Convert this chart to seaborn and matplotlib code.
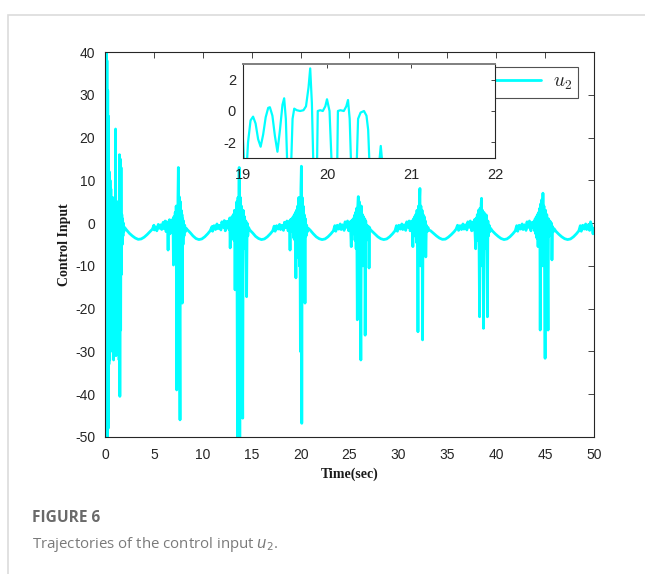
import matplotlib
matplotlib.use("Agg")
import matplotlib.pyplot as plt
from matplotlib.patches import Rectangle
from matplotlib.font_manager import FontProperties
import pandas as pd
import seaborn as sns

# ---- data ----
# bursts of the control input around each switching instant
t_b1 = [0.00, 0.04, 0.08, 0.12, 0.16, 0.20, 0.24, 0.28, 0.32, 0.36, 0.40, 0.44, 0.48, 0.52,
        0.56, 0.60, 0.64, 0.68, 0.72, 0.76, 0.80, 0.84, 0.88, 0.92, 0.96, 1.00, 1.04, 1.08,
        1.12, 1.16, 1.20, 1.24, 1.28, 1.32, 1.36, 1.40, 1.44, 1.48, 1.52, 1.56, 1.60, 1.64,
        1.68, 1.72, 1.76, 1.80, 1.84, 1.88, 1.92, 2.00]
u_b1 = [0, 40, -55, 40, -55, 38, -55, 31, -48, 25, -33, 12, -32, 10,
        -30, 8, -20, 5, -15, 6, -25, 3, -32, 4, -12, 6, -20, 22,
        -31, 3, -10, 2, -8, 5, -15, 3, -32, 16, -40.5, 15, -25, 13,
        -12, 2, -5, 1, -3, 0, -2, -1]

t_b2 = [6.40, 6.45, 6.50, 6.60, 6.65, 6.75, 6.85, 6.95, 7.00, 7.05, 7.12, 7.18, 7.24, 7.28,
        7.33, 7.38, 7.42, 7.46, 7.50, 7.54, 7.58, 7.62, 7.67, 7.71, 7.75, 7.79, 7.83, 7.87,
        7.90, 7.94, 7.98, 8.03, 8.08, 8.15, 8.22, 8.30]
u_b2 = [-1.0, -6.3, -0.5, 0.8, -2.5, 0.5, -1.5, 1.0, -9.8, 1.5, -3, 2.5, -5, 4,
        -39, 3, -12, 6, 13, -8, 6.2, -20, -46, 5, -10, 3, -7, 2,
        -18.7, 1, -5, 0.5, -3, -0.5, -2, -1.2]

t_b3 = [12.55, 12.62, 12.68, 12.75, 12.80, 12.86, 12.92, 12.98, 13.05, 13.12, 13.18, 13.24,
        13.30, 13.36, 13.42, 13.48, 13.55, 13.60, 13.66, 13.72, 13.78, 13.84, 13.90, 13.95,
        14.02, 14.08, 14.13, 14.20, 14.27, 14.34, 14.40, 14.48, 14.53, 14.60, 14.68]
u_b3 = [-1.0, 0.5, -1.5, 1.2, -5.8, 0.8, -1.8, 1.5, -3, 2.0, -4, 3,
        -15.6, 2.5, -6, 5, -52, 6, -10, 13, -52, 6, -8, 4,
        -20, -45.6, 3, -6, 1.5, -4, 0.5, -17.2, 0, -3, -1.0]

t_b4 = [18.80, 18.86, 18.92, 18.97, 19.03, 19.10, 19.17, 19.24, 19.30, 19.36, 19.42, 19.47,
        19.52, 19.57, 19.63, 19.70, 19.76, 19.82, 19.88, 19.93, 19.98, 20.03, 20.08, 20.12,
        20.16, 20.21, 20.26, 20.31, 20.36, 20.41, 20.45, 20.50, 20.56, 20.62, 20.70, 20.78]
u_b4 = [-1.0, 0.5, -6.3, 0.8, -1.5, 1.0, -2.0, 1.5, -3.5, 2.0, -4, 2.5,
        -12.8, 3, -5, 4, -8, 6, -10, 5, -30, 8, 13.3, -46.8,
        6, -8, 4, -12, 2, -5, -18.7, 1, -3, -0.5, -2, -1.2]

t_b5 = [25.00, 25.06, 25.12, 25.18, 25.23, 25.30, 25.37, 25.44, 25.50, 25.56, 25.62, 25.68,
        25.74, 25.80, 25.85, 25.90, 25.95, 26.00, 26.05, 26.10, 26.16, 26.21, 26.26, 26.32,
        26.38, 26.44, 26.50, 26.56, 26.60, 26.66, 26.72, 26.80, 26.88, 26.95, 27.00, 27.05, 27.12]
u_b5 = [-1.0, 0.3, -1.8, -5.5, 0.6, -1.5, 1.0, -2.5, 1.8, -4, 2.5, -6,
        3.5, -22.6, 4, 6.2, -8, 5, -12, 3, -32, 4, -6, 2,
        -10, 1.5, -5, 1, -26.2, 0.5, -4, -0.5, -2.5, -0.8, -10.5, -1, -1.5]

t_b6 = [31.30, 31.36, 31.42, 31.48, 31.54, 31.60, 31.66, 31.72, 31.78, 31.84, 31.90, 31.96,
        32.00, 32.05, 32.10, 32.15, 32.20, 32.25, 32.30, 32.36, 32.42, 32.47, 32.52, 32.58,
        32.64, 32.70, 32.76, 32.80, 32.86, 32.94, 33.02, 33.10]
u_b6 = [-1.0, 0.5, -1.5, -5.5, 1.0, -2.0, 1.5, -3.0, 2.0, -4.5, 3.0, -6,
        -25.4, 4, -8, 5, 8.1, -10, 4, -6, 3, -27.3, 2, -5,
        1.5, -3, 0.5, -7.9, -0.5, -2.0, -1.0, -1.6]

t_b7 = [37.60, 37.66, 37.72, 37.78, 37.84, 37.90, 37.95, 38.01, 38.07, 38.13, 38.19, 38.25,
        38.30, 38.35, 38.40, 38.46, 38.50, 38.55, 38.60, 38.66, 38.70, 38.75, 38.81, 38.87,
        38.93, 38.99, 39.05, 39.10, 39.15, 39.21, 39.28, 39.35, 39.42]
u_b7 = [-1.0, 0.3, -1.6, 0.8, -2.5, -6.0, 1.2, -3, 2.0, -4, 3.0, -6,
        -21.9, 3.5, -8, 4.5, 5.8, -10, 3, -5, -24.6, 2.5, -6, 2,
        -4, 1.9, -8, -21.9, 0.5, -3, -0.5, -2, -1.2]

t_b8 = [43.80, 43.86, 43.92, 43.98, 44.04, 44.10, 44.16, 44.22, 44.28, 44.34, 44.40, 44.46,
        44.50, 44.55, 44.61, 44.67, 44.72, 44.78, 44.83, 44.88, 44.95, 45.00, 45.05, 45.11,
        45.17, 45.23, 45.30, 45.35, 45.42, 45.50, 45.57, 45.65, 45.70, 45.76, 45.84, 45.92]
u_b8 = [-1.0, 0.4, -1.8, 1.0, -2.5, 1.5, -3.5, 2.0, -5.5, 2.5, -4, 3.5,
        -25, 4.5, -8, 5.5, -10, 7.0, -6, 4, -12, -31.6, 3, -6,
        2, -4, -25, 1, -3, 0.5, -2.5, 0, -8.6, -0.8, -2, -1.3]

# slow periodic part between the bursts
t_base = [2.2, 2.5, 2.8, 3.1, 3.4, 3.7, 4.0, 4.3, 4.6, 4.85, 5.0, 5.05, 5.2, 5.3, 5.45, 5.55,
          5.7, 5.8, 5.95, 6.05, 6.15, 6.25, 6.32,
          8.4, 8.7, 9.0, 9.3, 9.6, 9.9, 10.2, 10.5, 10.75, 10.95, 11.0, 11.15, 11.3, 11.45,
          11.55, 11.7, 11.85, 11.95, 12.1, 12.2, 12.3, 12.45,
          14.8, 15.1, 15.4, 15.7, 16.0, 16.3, 16.6, 16.9, 17.15, 17.3, 17.4, 17.55, 17.7,
          17.85, 17.95, 18.1, 18.25, 18.35, 18.5, 18.6, 18.72,
          21.0, 21.3, 21.6, 21.9, 22.2, 22.5, 22.8, 23.1, 23.35, 23.5, 23.6, 23.75, 23.9,
          24.05, 24.15, 24.3, 24.45, 24.55, 24.7, 24.8, 24.92,
          27.3, 27.6, 27.9, 28.2, 28.5, 28.8, 29.1, 29.4, 29.65, 29.8, 29.9, 30.05, 30.2,
          30.35, 30.45, 30.6, 30.75, 30.85, 31.0, 31.1, 31.2,
          33.3, 33.6, 33.9, 34.2, 34.5, 34.8, 35.1, 35.4, 35.7, 35.9, 36.05, 36.15, 36.3,
          36.45, 36.6, 36.7, 36.85, 37.0, 37.1, 37.25, 37.35, 37.5,
          39.6, 39.9, 40.2, 40.5, 40.8, 41.1, 41.4, 41.7, 41.95, 42.1, 42.2, 42.35, 42.5,
          42.65, 42.75, 42.9, 43.05, 43.15, 43.3, 43.4, 43.55, 43.68,
          46.1, 46.4, 46.7, 47.0, 47.3, 47.6, 47.9, 48.2, 48.45, 48.6, 48.7, 48.85, 49.0,
          49.15, 49.25, 49.4, 49.55, 49.65, 49.8, 49.9, 50.0]
u_base = [-1.6, -2.4, -3.0, -3.5, -3.8, -3.7, -3.3, -2.7, -2.0, -1.4, -0.5, -1.6, -0.9, -1.8,
          -0.3, -1.2, -0.4, -1.5, 0.2, -1.3, 0.5, -2.0, 0.3,
          -1.5, -2.2, -3.0, -3.6, -3.85, -3.7, -3.2, -2.5, -1.8, -0.8, -1.9, -0.6, -1.5, -0.2,
          -1.3, -0.5, -1.6, 0.3, -1.0, 0.6, -1.8, 0.4,
          -1.6, -2.3, -3.1, -3.6, -3.85, -3.7, -3.2, -2.5, -1.8, -0.7, -1.9, -0.6, -1.4,
          -0.3, -1.5, -0.5, -1.7, 0.2, -1.1, 0.5, -1.8,
          -1.7, -2.5, -3.2, -3.65, -3.85, -3.7, -3.2, -2.5, -1.8, -0.6, -1.9, -0.5, -1.4,
          -0.2, -1.5, -0.4, -1.7, 0.3, -1.0, 0.5, -1.8,
          -1.9, -2.6, -3.2, -3.65, -3.85, -3.7, -3.2, -2.5, -1.8, -0.6, -1.9, -0.5, -1.4,
          -0.2, -1.5, -0.4, -1.7, 0.3, -1.0, 0.5, -1.8,
          -1.8, -2.4, -3.0, -3.5, -3.8, -3.75, -3.3, -2.7, -2.0, -1.4, -0.5, -1.7, -0.6,
          -1.5, -0.2, -1.4, -0.4, -1.6, 0.3, -1.0, 0.5, -1.8,
          -1.8, -2.5, -3.1, -3.6, -3.85, -3.7, -3.2, -2.5, -1.8, -0.6, -1.9, -0.5, -1.4,
          -0.2, -1.5, -0.4, -1.7, 0.3, -1.0, 0.5, -1.8, 0.2,
          -1.9, -2.6, -3.2, -3.65, -3.85, -3.7, -3.2, -2.5, -1.8, -0.6, -1.9, -0.5, -1.4,
          -0.2, -1.5, -0.4, -1.7, 0.3, -1.0, -2.5, -1.2]

# zoomed window 19-22 s (values below -3 are cut by the inset frame)
t_zoom = [19.00, 19.02, 19.04, 19.06, 19.09, 19.12, 19.15, 19.18, 19.21, 19.24, 19.27, 19.30,
          19.32, 19.35, 19.38, 19.41, 19.44, 19.47, 19.49, 19.51, 19.53, 19.57, 19.59, 19.61,
          19.64, 19.68, 19.72, 19.75, 19.78, 19.80, 19.82, 19.84, 19.88, 19.89, 19.92, 19.95,
          19.98, 20.00, 20.03, 20.06, 20.12, 20.13, 20.16, 20.20, 20.23, 20.25, 20.27, 20.29,
          20.35, 20.37, 20.40, 20.44, 20.47, 20.49, 20.51, 20.61, 20.64, 20.67, 22.00]
u_zoom = [-1.85, -4, -4, -2.0, -0.6, -0.36, -0.8, -1.8, -2.28, -1.5, -0.4, 0.2,
          0.24, -0.3, -1.6, -2.6, -1.2, 0.4, 0.81, -0.5, -4, -4, -0.5, 0.15,
          0.05, 0.0, 0.05, 0.3, 1.5, 2.72, 0.5, -4, -4, 0.0, 0.05, 0.0,
          0.3, 0.75, 0.0, -4, -4, 0.0, 0.05, 0.0, 0.3, 0.7, -0.5, -4,
          -4, -0.5, -0.1, 0.0, -0.3, -1.2, -4, -4, -2.23, -4, -4]

xticks_main = [0, 5, 10, 15, 20, 25, 30, 35, 40, 45, 50]
yticks_main = [-50, -40, -30, -20, -10, 0, 10, 20, 30, 40]
xticks_zoom = [19, 20, 21, 22]
yticks_zoom = [-2, 0, 2]

times = t_b1 + t_b2 + t_b3 + t_b4 + t_b5 + t_b6 + t_b7 + t_b8 + t_base
vals = u_b1 + u_b2 + u_b3 + u_b4 + u_b5 + u_b6 + u_b7 + u_b8 + u_base
df = pd.DataFrame({"t": times, "u": vals}).sort_values("t").reset_index(drop=True)
df_zoom = pd.DataFrame({"t": t_zoom, "u": u_zoom})

sns.set_theme(style="white")
plt.rcParams["font.family"] = ["Liberation Sans", "DejaVu Sans"]
plt.rcParams["axes.unicode_minus"] = False
plt.rcParams["xtick.direction"] = "in"
plt.rcParams["ytick.direction"] = "in"

cyan = "#00FFFF"
dark = "#262626"

fig = plt.figure(figsize=(6.45, 5.74), dpi=100)

# light frame of the page
fig.add_artist(Rectangle((8 / 645, -0.2), 1.2, 0.2 + (574 - 15) / 574, transform=fig.transFigure,
                         fill=False, edgecolor="#dcdcdc", linewidth=1.2, clip_on=False))

ax = fig.add_axes([105 / 645, 137 / 574, 489 / 645, 385 / 574])
sns.lineplot(data=df, x="t", y="u", ax=ax, color=cyan, linewidth=2.0, estimator=None,
             sort=False, label="$u_2$")
ax.set_xlim(0, 50)
ax.set_ylim(-50, 40)
ax.set_xticks(xticks_main)
ax.set_yticks(yticks_main)
ax.tick_params(axis="both", labelsize=10, colors=dark, length=4, width=0.6,
               top=True, right=True)
ax.tick_params(axis="x", pad=8)
ax.tick_params(axis="y", pad=7)
for s in ax.spines.values():
    s.set_color(dark)
    s.set_linewidth(0.8)
ax.set_xlabel("Time(sec)", family="Liberation Serif", fontweight="bold", fontsize=10,
              color="#1a1a1a", labelpad=4)
ax.set_ylabel("Control Input", family="Liberation Serif", fontweight="bold", fontsize=10,
              color="#1a1a1a", labelpad=3)

leg = ax.legend(loc="upper right", bbox_to_anchor=(578 / 645, (574 - 67) / 574),
                bbox_transform=fig.transFigure, frameon=True, fancybox=False,
                prop=FontProperties(size=14, math_fontfamily="cm"),
                handlelength=2.4, borderpad=0.3, handletextpad=0.6, borderaxespad=0)
leg.get_frame().set_edgecolor(dark)
leg.get_frame().set_linewidth(0.8)

# inset
axi = fig.add_axes([243 / 645, 416 / 574, 252 / 645, 94 / 574])
sns.lineplot(data=df_zoom, x="t", y="u", ax=axi, color=cyan, linewidth=1.6, estimator=None,
             sort=False, legend=False)
axi.set_xlim(19, 22)
axi.set_ylim(-3, 3)
axi.set_xticks(xticks_zoom)
axi.set_yticks(yticks_zoom)
axi.set_xlabel("")
axi.set_ylabel("")
axi.tick_params(axis="both", labelsize=10.5, colors=dark, length=3, width=0.6,
                top=True, right=True)
axi.tick_params(axis="x", pad=7)
axi.tick_params(axis="y", pad=5)
for s in axi.spines.values():
    s.set_color(dark)
    s.set_linewidth(0.8)
axi.spines["top"].set_color("#7f7f7f")
axi.spines["top"].set_linewidth(1.4)

# caption
fig.text(32 / 645, (574 - 518) / 574, "FIGURE 6", family="Open Sans", fontweight="bold",
         fontsize=11.2, color="#6a6a6a", va="center", ha="left")
fig.text(32 / 645, (574 - 545) / 574, "Trajectories of the control input $u_2$.",
         family="Open Sans", fontsize=10.8, color="#7a7a7a", va="center", ha="left",
         math_fontfamily="dejavusans")

fig.savefig("out.png", dpi=100)
